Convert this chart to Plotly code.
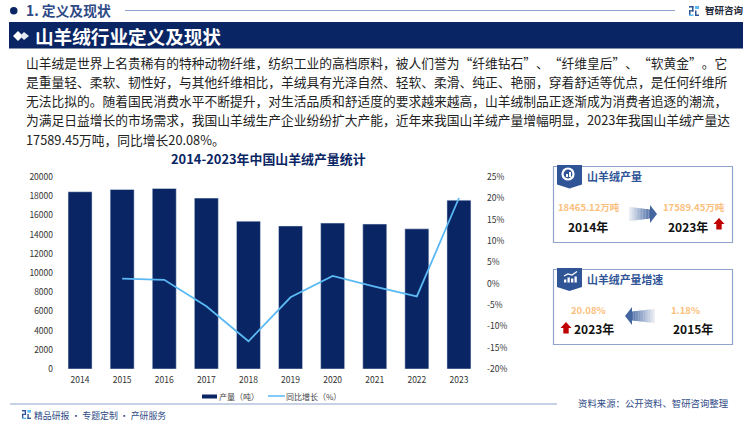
import plotly.graph_objects as go

years = ["2014", "2015", "2016", "2017", "2018", "2019", "2020", "2021", "2022", "2023"]
output_tons = [18465.12, 18700, 18800, 17800, 15400, 14900, 15200, 15100, 14600, 17589.45]
growth_years = years[1:]
growth_pct = [1.18, 0.9, -5.3, -13.5, -3.2, 1.8, -0.7, -3.0, 20.08]
left_ticks = list(range(0, 20001, 2000))
right_ticks = list(range(-20, 26, 5))
paragraph = [
    "山羊绒是世界上名贵稀有的特种动物纤维，纺织工业的高档原料，被人们誉为“纤维钻石”、“纤维皇后”、“软黄金”。它",
    "是重量轻、柔软、韧性好，与其他纤维相比，羊绒具有光泽自然、轻软、柔滑、纯正、艳丽，穿着舒适等优点，是任何纤维所",
    "无法比拟的。随着国民消费水平不断提升，对生活品质和舒适度的要求越来越高，山羊绒制品正逐渐成为消费者追逐的潮流，",
    "为满足日益增长的市场需求，我国山羊绒生产企业纷纷扩大产能，近年来我国山羊绒产量增幅明显，2023年我国山羊绒产量达",
    "17589.45万吨，同比增长20.08%。",
]
para_y = [62.5, 81.5, 100.5, 119.5, 139]

NAVY = "#0A2563"
BLUE = "#2F5597"
SKY = "#5BB9F4"
ORANGE = "#FCC07C"
RED = "#C00000"
FONT = "Noto Sans CJK SC"
W, H = 750, 421


def X(p):
    return p / W


def Y(p):
    return 1 - p / H


shapes, ann = [], []


def rect(x0, y0, x1, y1, fill=None, line=None, lw=1, opacity=1):
    shapes.append(dict(type="rect", xref="paper", yref="paper", x0=X(x0), x1=X(x1), y0=Y(y0), y1=Y(y1),
                       fillcolor=fill or "rgba(0,0,0,0)", opacity=opacity,
                       line=dict(color=line or "rgba(0,0,0,0)", width=lw if line else 0)))


def hline(x0, x1, y, color, lw=1):
    shapes.append(dict(type="line", xref="paper", yref="paper", x0=X(x0), x1=X(x1), y0=Y(y), y1=Y(y),
                       line=dict(color=color, width=lw)))


def poly(points, fill, opacity=1):
    d = "M" + " L".join(f"{X(a):.5f},{Y(b):.5f}" for a, b in points) + " Z"
    shapes.append(dict(type="path", xref="paper", yref="paper", path=d, fillcolor=fill, opacity=opacity,
                       line=dict(width=0)))


def text(x, y, s, size, color, bold=False, anchor="left"):
    if bold:
        s = f"<b>{s}</b>"
    ann.append(dict(xref="paper", yref="paper", x=X(x), y=Y(y), text=s, showarrow=False, xanchor=anchor,
                    yanchor="middle", borderpad=0, borderwidth=0, align=anchor,
                    font=dict(family=FONT, size=size, color=color)))


def logo(x, y, s):
    rect(x, y, x + s * 0.45, y + s * 0.16, BLUE)
    rect(x + s * 0.3, y, x + s * 0.45, y + s * 0.55, BLUE)
    rect(x, y + s * 0.42, x + s * 0.45, y + s * 0.55, BLUE)
    rect(x, y + s * 0.42, x + s * 0.15, y + s, BLUE)
    rect(x, y + s * 0.85, x + s * 0.45, y + s, SKY)
    rect(x + s * 0.6, y, x + s, y + s * 0.3, SKY)
    rect(x + s * 0.6, y + s * 0.45, x + s * 0.75, y + s, BLUE)
    rect(x + s * 0.6, y + s * 0.85, x + s, y + s, BLUE)


# Header
shapes.append(dict(type="circle", xref="paper", yref="paper", x0=X(10), x1=X(17.5), y0=Y(7), y1=Y(14.5),
                   fillcolor=NAVY, line=dict(width=0)))
text(26, 10.5, "1. 定义及现状", 13.8, "#2E4A86", bold=True)
hline(125, 675, 10.5, "#8FA3CC", 1.2)
logo(689, 6, 10)
text(705, 10.5, "智研咨询", 9.5, "#1F2937", bold=True)
rect(9, 22, 743, 48.5, NAVY)
poly([(13, 36), (18, 31), (23, 36), (18, 41)], "#FFFFFF")
poly([(20, 36), (24, 32), (29, 36), (24, 40)], "#E4E8F0")
text(35, 35.5, "山羊绒行业定义及现状", 18.6, "#FFFFFF", bold=True)

for line, py in zip(paragraph, para_y):
    text(26, py, line, 12.75, "#222222")

text(268, 158.5, "2014-2023年中国山羊绒产量统计", 12.9, NAVY, bold=True, anchor="center")

# Legend
rect(202, 394.5, 217, 398.5, NAVY)
text(218.5, 396, "产量（吨）", 8, "#444444")
hline(268, 285, 396, SKY, 1.5)
text(286, 396, "同比增长（%）", 8, "#444444")

# Footer
hline(10, 557, 404, "#8FA3CC", 1.2)
logo(22, 410, 9)
text(34, 415, "精品研报 · 专题定制 · 产研服务", 8.9, "#2E4A86")
text(578, 403, "资料来源：公开资料、智研咨询整理", 9.4, "#2E4A86")


def arrow(x_from, x_to, y, half, head_len, shaft, steps=14, o0=0.05, o1=1.0):
    """Horizontal arrow with fading tail, drawn as slices."""
    sign = 1 if x_to > x_from else -1
    body_end = x_to - sign * head_len
    for i in range(steps):
        a = x_from + (body_end - x_from) * i / steps
        b = x_from + (body_end - x_from) * (i + 1) / steps
        op = o0 + (o1 - o0) * (i + 1) / steps
        h0 = shaft * (1.0 + 0.6 * (steps - i) / steps)
        h1 = shaft * (1.0 + 0.6 * (steps - i - 1) / steps)
        poly([(a, y - h0), (b, y - h1), (b, y + h1), (a, y + h0)], BLUE, op * 0.8)
    poly([(body_end, y - half), (x_to, y), (body_end, y + half)], BLUE, 0.9)


def up_arrow(cx, top):
    poly([(cx - 5.5, top + 6), (cx, top), (cx + 5.5, top + 6), (cx + 2.7, top + 6),
          (cx + 2.7, top + 11.5), (cx - 2.7, top + 11.5), (cx - 2.7, top + 6)], RED)


def badge(x, top, bottom):
    poly([(x, top), (x + 25, top), (x + 25, bottom - 4), (x + 12.5, bottom), (x, bottom - 4)], BLUE)


# Card 1
rect(553.5, 166.5, 732.5, 242.5, "#FFFFFF", "#8FA3CC", 1.2)
badge(557, 165, 188.5)
shapes.append(dict(type="circle", xref="paper", yref="paper", x0=X(562.5), x1=X(573.5), y0=Y(168.5), y1=Y(179.5),
                   fillcolor="rgba(0,0,0,0)", line=dict(color="#FFFFFF", width=2.2)))
rect(566, 174, 568, 177, "#FFFFFF")
rect(569, 172, 571, 177, "#FFFFFF")
text(587, 176.5, "山羊绒产量", 11, BLUE, bold=True)
text(558, 207, "18465.12万吨", 9.5, ORANGE, bold=True)
text(663, 207, "17589.45万吨", 9.5, ORANGE, bold=True)
text(568, 226, "2014年", 12, "#111111", bold=True)
text(668, 226, "2023年", 12, "#111111", bold=True)
arrow(629, 657, 214, 9, 7, 4.5)
up_arrow(719, 218)

# Card 2
rect(553.5, 269.5, 732.5, 344.5, "#FFFFFF", "#8FA3CC", 1.2)
badge(557, 268, 291)
for bx, bh in [(564, 3), (567.5, 5), (571, 4), (574.5, 6)]:
    rect(bx, 282.5 - bh, bx + 2.3, 282.5, "#FFFFFF")
shapes.append(dict(type="path", xref="paper", yref="paper",
                   path=f"M{X(564):.5f},{Y(276):.5f} L{X(568):.5f},{Y(274):.5f} L{X(572):.5f},{Y(275):.5f} L{X(577):.5f},{Y(271.5):.5f}",
                   line=dict(color="#FFFFFF", width=1.2)))
text(587, 279, "山羊绒产量增速", 10.9, BLUE, bold=True)
text(571, 310, "20.08%", 9.5, ORANGE, bold=True)
text(671, 310, "1.18%", 9.5, ORANGE, bold=True)
text(574, 328, "2023年", 12, "#111111", bold=True)
text(673, 328, "2015年", 12, "#111111", bold=True)
arrow(655, 625, 316, 9, 7, 4.5)
up_arrow(566, 322)

fig = go.Figure()
fig.add_trace(go.Bar(x=years, y=output_tons, name="产量（吨）", marker=dict(color=NAVY), yaxis="y", showlegend=False))
fig.add_trace(go.Scatter(x=growth_years, y=growth_pct, name="同比增长（%）", mode="lines",
                         line=dict(color=SKY, width=1.8), yaxis="y2", showlegend=False))

tick_font = dict(size=8.5, color="#333333", family=FONT)
fig.update_layout(
    width=W, height=H, margin=dict(l=0, r=0, t=0, b=0, pad=0, autoexpand=False), paper_bgcolor="#FFFFFF",
    plot_bgcolor="#FFFFFF",
    bargap=0.43, showlegend=False, font=dict(family=FONT), shapes=shapes, annotations=ann,
    xaxis=dict(domain=[X(59), X(480)], type="category", categoryorder="array", categoryarray=years,
               showgrid=False, showline=False, ticks="", tickfont=tick_font, zeroline=False, ticklabelstandoff=4,
               automargin=False),
    yaxis=dict(domain=[Y(369), Y(177)], range=[0, 20000], tickvals=left_ticks, tickformat="d", showgrid=False,
               showline=False, ticks="", tickfont=tick_font, zeroline=False, ticklabelstandoff=5, automargin=False),
    yaxis2=dict(overlaying="y", side="right", anchor="x", range=[-20, 25], tickvals=right_ticks,
                ticktext=[f"{v}%" for v in right_ticks], showgrid=False, showline=False, ticks="",
                tickfont=tick_font, zeroline=False, ticklabelstandoff=6, automargin=False),
)
fig.write_html("out.html",
               post_script="document.body.style.margin='0';document.body.style.overflow='hidden';"
                           "document.body.style.textSpacingTrim='space-all';Plotly.redraw('{plot_id}');",
               config=dict(displayModeBar=False))
